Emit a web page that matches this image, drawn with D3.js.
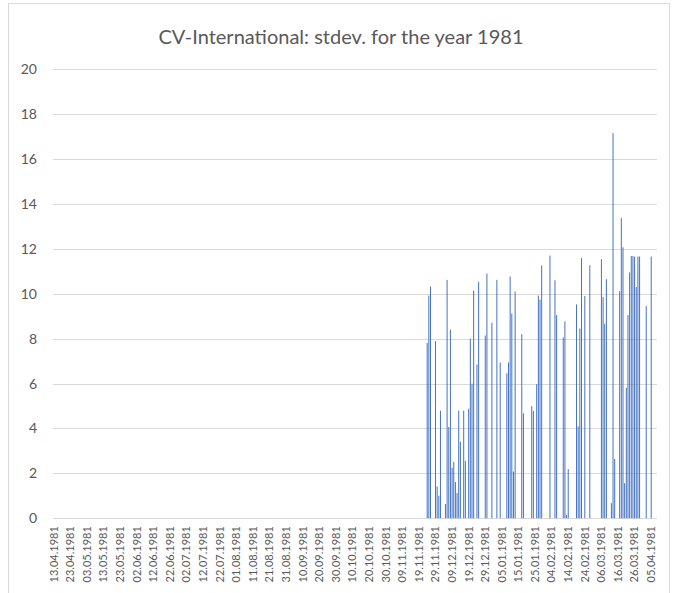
<!DOCTYPE html>
<html><head><meta charset="utf-8">
<script src="https://cdn.jsdelivr.net/npm/d3@7"></script>
<style>body{margin:0;background:#fff;} text{font-family:Lato,"Open Sans",sans-serif;}</style>
</head><body>
<svg id="c" width="679" height="593"></svg>
<script>
// ---- data ----
const title = "CV-International: stdev. for the year 1981";
// category ranges (as in the source sheet): 13.04.1981–31.12.1981, then 29.12.1980–08.04.1981
const categoryRanges = [["1981-04-13", "1981-12-31"], ["1980-12-29", "1981-04-08"]];
const barDates = [
  "24.11.1981","25.11.1981","26.11.1981","29.11.1981","30.11.1981","01.12.1981","02.12.1981",
  "05.12.1981","06.12.1981","07.12.1981","08.12.1981","09.12.1981","10.12.1981","11.12.1981",
  "12.12.1981","13.12.1981","14.12.1981","16.12.1981","17.12.1981","19.12.1981","20.12.1981",
  "21.12.1981","22.12.1981","24.12.1981","25.12.1981","29.12.1981","30.12.1981","30.12.1980",
  "02.01.1981","04.01.1981","08.01.1981","09.01.1981","10.01.1981","11.01.1981","12.01.1981",
  "13.01.1981","17.01.1981","18.01.1981","23.01.1981","24.01.1981","26.01.1981","27.01.1981",
  "28.01.1981","29.01.1981","03.02.1981","06.02.1981","07.02.1981","11.02.1981","12.02.1981",
  "13.02.1981","14.02.1981","19.02.1981","20.02.1981","21.02.1981","22.02.1981","24.02.1981",
  "27.02.1981","06.03.1981","07.03.1981","08.03.1981","09.03.1981","12.03.1981","13.03.1981",
  "14.03.1981","17.03.1981","18.03.1981","19.03.1981","20.03.1981","21.03.1981","22.03.1981",
  "23.03.1981","24.03.1981","25.03.1981","26.03.1981","27.03.1981","28.03.1981","29.03.1981",
  "02.04.1981","05.04.1981"
];
const barValues = [
  7.81, 9.92, 10.32, 7.89, 1.41, 1.0, 4.79,
  0.63, 10.62, 4.06, 8.4, 2.25, 2.51, 1.61,
  1.12, 4.79, 3.41, 4.79, 2.56, 4.88, 8.0,
  5.99, 10.14, 6.85, 10.53, 8.14, 10.9, 8.71,
  10.62, 6.94, 6.46, 6.94, 10.77, 9.12, 2.08,
  10.1, 8.2, 4.67, 4.99, 4.78, 5.97, 9.92,
  9.74, 11.26, 11.7, 10.6, 9.05, 8.05, 8.77,
  0.14, 2.19, 9.52, 4.09, 8.45, 11.59, 9.9,
  11.27, 11.54, 9.85, 8.66, 10.65, 0.67, 17.16,
  2.64, 10.12, 13.38, 12.07, 1.56, 5.81, 9.05,
  10.95, 11.68, 11.68, 11.65, 10.3, 11.66, 11.66,
  9.45, 11.66
];
const yTicks = [0, 2, 4, 6, 8, 10, 12, 14, 16, 18, 20];
const labelEvery = 10;

// ---- build categories ----
const fmt = d3.timeFormat("%d.%m.%Y");
const parse = d3.timeParse("%Y-%m-%d");
const categories = [];
categoryRanges.forEach(([a, b]) => {
  d3.timeDay.range(parse(a), d3.timeDay.offset(parse(b), 1)).forEach(d => categories.push(fmt(d)));
});
const bars = barDates.map((d, i) => ({ idx: categories.indexOf(d), v: barValues[i] }));

// ---- layout ----
const svg = d3.select("#c");
const W = 679, H = 593;
const m = { left: 53, right: 22, top: 69.3, bottom: 74.8 };

svg.append("rect").attr("x", 8.5).attr("y", 3.5).attr("width", 661).attr("height", 600)
  .attr("fill", "#fff").attr("stroke", "#d9d9d9").attr("stroke-width", 1);

const x = d3.scaleBand().domain(d3.range(categories.length))
  .range([m.left, W - m.right]).paddingInner(0.4).paddingOuter(0.2);
const y = d3.scaleLinear().domain([0, 20]).range([H - m.bottom, m.top]);

// gridlines
svg.append("g").selectAll("line").data(yTicks).join("line")
  .attr("x1", m.left).attr("x2", W - m.right)
  .attr("y1", d => Math.round(y(d)) + 0.5).attr("y2", d => Math.round(y(d)) + 0.5)
  .attr("stroke", "#d9d9d9").attr("stroke-width", 1);

// y labels
const yAxis = d3.axisLeft(y).tickValues(yTicks).tickSize(0).tickPadding(0);
const gy = svg.append("g").attr("transform", `translate(${m.left - 16},0)`).call(yAxis);
gy.select(".domain").remove();
gy.selectAll("text").attr("fill", "#595959").style("font-size", "14px");

// bars
svg.append("g").selectAll("rect").data(bars).join("rect")
  .attr("x", d => x(d.idx)).attr("width", x.bandwidth())
  .attr("y", d => y(d.v)).attr("height", d => y(0) - y(d.v))
  .attr("fill", "#4472C4");

// x axis labels
const xAxis = d3.axisBottom(x)
  .tickValues(d3.range(0, categories.length, labelEvery))
  .tickFormat(i => categories[i]).tickSize(0).tickPadding(0);
const gx = svg.append("g").attr("transform", `translate(0,${y(0)})`).call(xAxis);
gx.select(".domain").remove();
gx.selectAll("text")
  .attr("fill", "#595959").style("font-size", "11px")
  .attr("transform", "rotate(-90)")
  .attr("text-anchor", "end").attr("x", -8).attr("y", 0).attr("dy", "0.35em");

// title
svg.append("text").attr("x", 341).attr("y", 44).attr("text-anchor", "middle")
  .attr("fill", "#595959").style("font-size", "20px").text(title);
</script>
</body></html>
